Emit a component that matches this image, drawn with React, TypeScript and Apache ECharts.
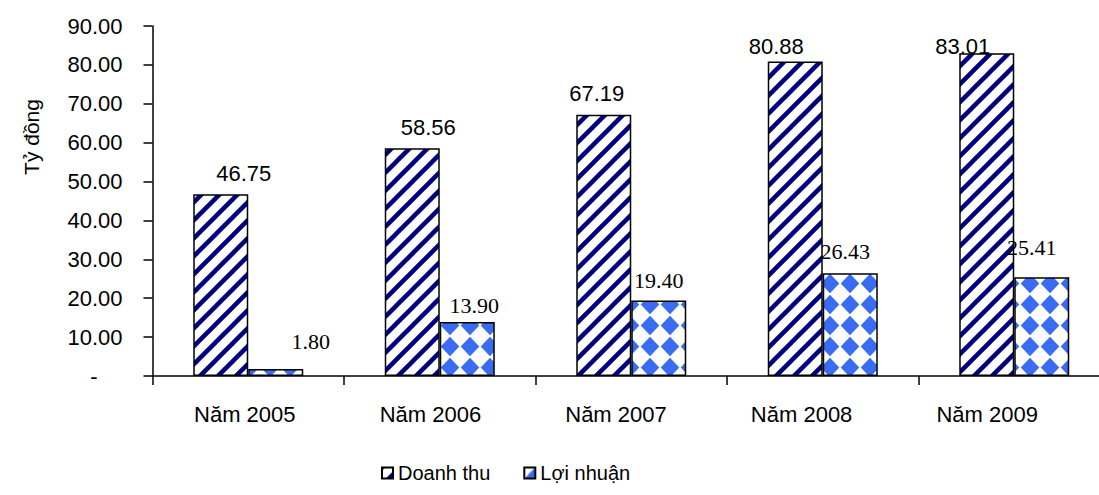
import React, { useEffect, useRef } from "react";
import * as echarts from "echarts";

const categories = ["Năm 2005", "Năm 2006", "Năm 2007", "Năm 2008", "Năm 2009"];
const doanhThu = [46.75, 58.56, 67.19, 80.88, 83.01];
const loiNhuan = [1.8, 13.9, 19.4, 26.43, 25.41];
const seriesNames = ["Doanh thu", "Lợi nhuận"];
const yAxisName = "Tỷ đồng";

// label nudges (presentation only)
const dtOffsets: [number, number][] = [[23, -10], [16, -10], [-7, -10], [-19, -4], [-24, 4]];
const lnOffsets: [number, number][] = [[35, -17], [7, -5], [0, -9], [-5, -11], [-10, -19]];

const CHART_W = 1130;

function stripeTile(): HTMLCanvasElement {
  const s = 18;
  const c = document.createElement("canvas");
  c.width = s;
  c.height = s;
  const ctx = c.getContext("2d")!;
  ctx.fillStyle = "#ffffff";
  ctx.fillRect(0, 0, s, s);
  ctx.strokeStyle = "#000080";
  ctx.lineWidth = 4.5;
  for (const k of [0, s, 2 * s]) {
    ctx.beginPath();
    ctx.moveTo(-s, k + s);
    ctx.lineTo(k + s, -s);
    ctx.stroke();
  }
  return c;
}

function diamondTile(): HTMLCanvasElement {
  const w = 20;
  const h = 21;
  const c = document.createElement("canvas");
  c.width = w;
  c.height = h;
  const ctx = c.getContext("2d")!;
  ctx.fillStyle = "#ffffff";
  ctx.fillRect(0, 0, w, h);
  ctx.fillStyle = "#3a6cf2";
  const rx = 9.3;
  const ry = 9.8;
  ctx.beginPath();
  ctx.moveTo(w / 2, h / 2 - ry);
  ctx.lineTo(w / 2 + rx, h / 2);
  ctx.lineTo(w / 2, h / 2 + ry);
  ctx.lineTo(w / 2 - rx, h / 2);
  ctx.closePath();
  ctx.fill();
  return c;
}

export default function App() {
  const ref = useRef<HTMLDivElement>(null);
  useEffect(() => {
    if (!ref.current) return;
    const chart = echarts.init(ref.current, null, { renderer: "svg" });
    const stripe = stripeTile();
    const diamond = diamondTile();
    const sans = "Liberation Sans, Arial, sans-serif";
    const serif = "Liberation Serif, Times New Roman, serif";
    chart.setOption({
      animation: false,
      backgroundColor: "#ffffff",
      grid: [
        { left: 152.5, right: CHART_W - 1110, top: 26, bottom: 119, containLabel: false },
        { left: 152, right: CHART_W - 1080, top: 26, bottom: 119, containLabel: false },
      ],
      graphic: [
        {
          type: "text",
          x: 31,
          y: 137,
          rotation: Math.PI / 2,
          style: {
            text: yAxisName,
            fontFamily: sans,
            fontSize: 21,
            fill: "#000",
            align: "center",
            verticalAlign: "middle",
          },
        },
      ],
      legend: {
        bottom: 7,
        left: 376,
        itemWidth: 11,
        itemHeight: 11,
        itemGap: 33,
        icon: "rect",
        textStyle: { fontFamily: sans, fontSize: 20, color: "#000" },
        data: seriesNames,
      },
      xAxis: [
        {
          type: "category",
          gridIndex: 0,
          data: categories,
          axisLine: { lineStyle: { color: "#000", width: 1.5 } },
          axisTick: { show: true, length: 9, alignWithLabel: false, lineStyle: { color: "#000", width: 1.5 } },
          axisLabel: { show: false },
        },
        {
          type: "category",
          gridIndex: 1,
          data: categories,
          axisLine: { show: false },
          axisTick: { show: false },
          axisLabel: { fontFamily: sans, fontSize: 22, color: "#000", margin: 27 },
        },
      ],
      yAxis: [
        {
          type: "value",
          gridIndex: 0,
          min: 0,
          max: 90,
          interval: 10,
          axisLine: { show: true, lineStyle: { color: "#000", width: 1.5 } },
          axisTick: { show: true, length: 9, lineStyle: { color: "#000", width: 1.5 } },
          splitLine: { show: false },
          axisLabel: {
            fontFamily: sans,
            fontSize: 22,
            color: "#000",
            margin: 30,
            formatter: (v: number) => (v === 0 ? "{d|-}" : v.toFixed(2)),
            rich: { d: { fontFamily: sans, fontSize: 22, color: "#000", padding: [0, 25, 0, 0] } },
          },
        },
        {
          type: "value",
          gridIndex: 1,
          min: 0,
          max: 90,
          interval: 10,
          show: false,
        },
      ],
      series: [
        {
          name: seriesNames[0],
          type: "bar",
          xAxisIndex: 0,
          yAxisIndex: 0,
          barGap: "0%",
          barWidth: 55,
          itemStyle: {
            color: { image: stripe, repeat: "repeat", imageWidth: 18, imageHeight: 18 } as any,
            borderColor: "#000",
            borderWidth: 1.5,
          },
          data: doanhThu.map((v, i) => ({
            value: v,
            label: { offset: dtOffsets[i] },
          })),
          label: {
            show: true,
            position: "top",
            distance: 0,
            fontFamily: sans,
            fontSize: 22,
            color: "#000",
            formatter: (p: any) => Number(p.value).toFixed(2),
          },
        },
        {
          name: seriesNames[1],
          type: "bar",
          xAxisIndex: 0,
          yAxisIndex: 0,
          barGap: "0%",
          barWidth: 55,
          itemStyle: {
            color: { image: diamond, repeat: "repeat", imageWidth: 20, imageHeight: 21 } as any,
            borderColor: "#000",
            borderWidth: 1.5,
          },
          data: loiNhuan.map((v, i) => ({
            value: v,
            label: { offset: lnOffsets[i] },
          })),
          label: {
            show: true,
            position: "top",
            distance: 0,
            fontFamily: serif,
            fontSize: 22,
            color: "#000",
            formatter: (p: any) => Number(p.value).toFixed(2),
          },
        },
      ],
    });
    return () => chart.dispose();
  }, []);
  return (
    <div
      ref={ref}
      style={{ position: "fixed", left: 0, top: 0, width: CHART_W, height: 495 }}
    />
  );
}
